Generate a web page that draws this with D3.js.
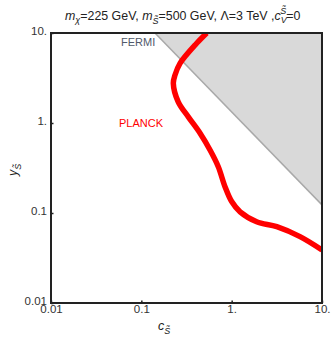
<!DOCTYPE html>
<html><head><meta charset="utf-8">
<script src="https://cdn.jsdelivr.net/npm/d3@7"></script>
<style>body{margin:0;background:#fff}svg{display:block;font-family:"Liberation Sans",Arial,sans-serif}</style>
</head><body>
<script>
const tickValues = [0.01, 0.1, 1, 10];
const tickLabels = ["0.01", "0.1", "1.", "10."];
const fermiC = [0.1416, 10];
const fermiY = [10, 0.123];
const planckC = [0.53, 0.41, 0.268, 0.236, 0.226, 0.256, 0.331, 0.447, 0.576, 0.711, 0.844, 1.0, 1.24, 1.89, 3.16, 5.71, 10];
const planckY = [10, 7.69, 4.6, 3.41, 2.76, 1.72, 1.17, 0.769, 0.501, 0.327, 0.196, 0.134, 0.103, 0.080, 0.0705, 0.0546, 0.0388];

const W = 332, H = 345;
const L = 51, R = 322, T = 33, B = 303;
const svg = d3.select("body").append("svg").attr("width", W).attr("height", H);
const x = d3.scaleLog().domain([0.01, 10]).range([L, R]);
const y = d3.scaleLog().domain([0.01, 10]).range([B, T]);

svg.append("clipPath").attr("id", "clip").append("rect")
  .attr("x", L).attr("y", T).attr("width", R - L).attr("height", B - T);
const g = svg.append("g").attr("clip-path", "url(#clip)");

// Fermi excluded region
const poly = [[fermiC[0], fermiY[0]], [fermiC[1], fermiY[1]], [10, 10]];
g.append("path")
  .attr("d", d3.line().x(d => x(d[0])).y(d => y(d[1]))(poly) + "Z")
  .attr("fill", "#d9d9d9");
g.append("path")
  .attr("d", d3.line().x(d => x(d[0])).y(d => y(d[1]))([[fermiC[0], fermiY[0]], [fermiC[1], fermiY[1]]]))
  .attr("stroke", "#a9a9a9").attr("stroke-width", 1.5).attr("fill", "none");

// Planck curve
const pts = planckC.map((c, i) => [c, planckY[i]]);
g.append("path")
  .attr("d", d3.line().x(d => x(d[0])).y(d => y(d[1])).curve(d3.curveCatmullRom.alpha(0.5))(pts))
  .attr("stroke", "#ff0000").attr("stroke-width", 5.5).attr("fill", "none")
  .attr("stroke-linejoin", "round");

// Axes
const fmt = (d) => tickLabels[tickValues.indexOf(d)];
const xa = svg.append("g").attr("transform", `translate(0,${B})`)
  .call(d3.axisBottom(x).tickValues(tickValues).tickFormat(fmt).tickSize(-2.5).tickPadding(3));
const ya = svg.append("g").attr("transform", `translate(${L},0)`)
  .call(d3.axisLeft(y).tickValues(tickValues).tickFormat(fmt).tickSize(-2.5).tickPadding(4));
[xa, ya].forEach(a => {
  a.select(".domain").remove();
  a.selectAll("line").attr("stroke", "#222").attr("stroke-width", 1.5);
  a.selectAll("text").attr("font-size", 11.5).attr("fill", "#333")
    .attr("font-family", "'Liberation Sans',Arial,sans-serif");
});
ya.selectAll("text").attr("dy", "0.1em");
xa.selectAll("text").attr("dy", "0.62em");

// Frame
svg.append("rect").attr("x", L).attr("y", T).attr("width", R - L).attr("height", B - T)
  .attr("fill", "none").attr("stroke", "#222").attr("stroke-width", 2);

// Labels in plot
svg.append("text").attr("x", 121).attr("y", 45.5).attr("font-size", 11).attr("fill", "#50596a").text("FERMI");
svg.append("text").attr("x", 119).attr("y", 126.5).attr("font-size", 11).attr("fill", "#ff0000").text("PLANCK");

// Title
const t = svg.append("text").attr("x", 65).attr("y", 20).attr("font-size", 12.4).attr("fill", "#222");
t.append("tspan").attr("font-style", "italic").text("m");
t.append("tspan").attr("font-style", "italic").attr("font-size", 9).attr("dy", 3).text("χ");
t.append("tspan").attr("dy", -3).text("=225 GeV, ");
t.append("tspan").attr("font-style", "italic").text("m");
t.append("tspan").attr("font-style", "italic").attr("font-size", 9).attr("dy", 3.5).text("S\u0303");
t.append("tspan").attr("dy", -3.5).text("=500 GeV, Λ=3 TeV ,");
t.append("tspan").attr("font-style", "italic").text("c");
t.append("tspan").attr("font-style", "italic").attr("font-size", 9).attr("dy", 3).text("V");
t.append("tspan").attr("font-style", "italic").attr("font-size", 9).attr("dx", -6.5).attr("dy", -9.5).text("S\u0303");
t.append("tspan").attr("dy", 6.5).text("=0");

// X label
const xl = svg.append("text").attr("x", 158).attr("y", 330).attr("font-size", 12.5).attr("fill", "#222");
xl.append("tspan").attr("font-style", "italic").text("c");
xl.append("tspan").attr("font-style", "italic").attr("font-size", 9).attr("dy", 3.5).text("S\u0303");

// Y label
const yl = svg.append("text").attr("transform", "translate(17,176) rotate(-90)").attr("font-size", 12.5).attr("fill", "#222");
yl.append("tspan").attr("font-style", "italic").text("y");
yl.append("tspan").attr("font-style", "italic").attr("font-size", 9).attr("dy", 3.5).text("S\u0303");
</script>
</body></html>
